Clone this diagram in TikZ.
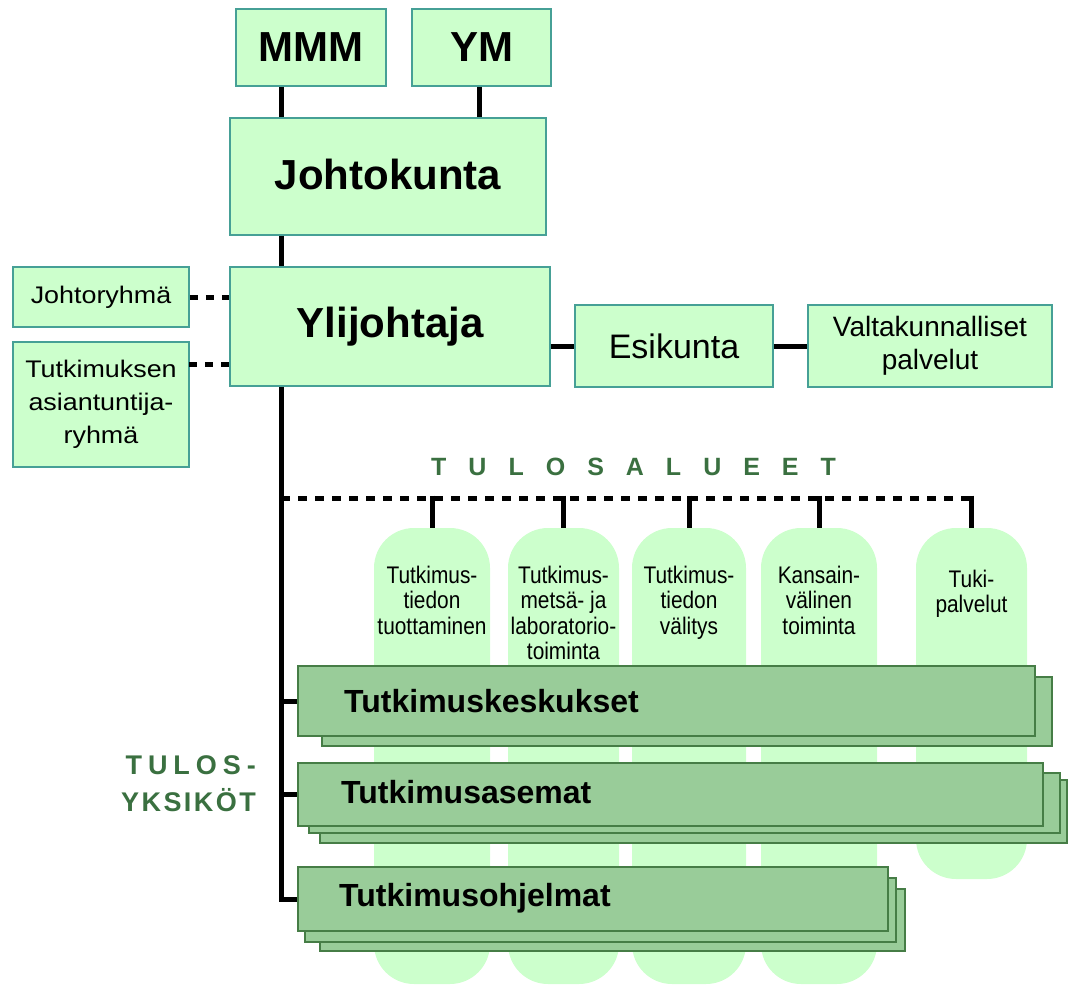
\documentclass[tikz,border=0pt]{standalone}
\usepackage{fontspec}
\setmainfont{Liberation Sans}
\newfontfamily\widefont[FakeStretch=1.12]{Liberation Sans}
\newfontfamily\narrowfont[FakeStretch=0.87]{Liberation Sans}
\newfontface\spacedfont[LetterSpace=88]{Liberation Sans Bold}
\newfontface\tyfontA[LetterSpace=22]{Liberation Sans Bold}
\newfontface\tyfontB[LetterSpace=9]{Liberation Sans Bold}
\definecolor{lgreen}{RGB}{204,255,204}
\definecolor{tealb}{RGB}{70,160,150}
\definecolor{mgreen}{RGB}{153,204,153}
\definecolor{dgreenb}{RGB}{70,125,70}
\definecolor{tgreen}{RGB}{58,112,64}
\begin{document}
\begin{tikzpicture}[x=1pt,y=-1pt,
  lbox/.style={draw=tealb, fill=lgreen, line width=1.6pt, inner sep=0pt, align=center},
  gbox/.style={draw=dgreenb, fill=mgreen, line width=1.4pt, inner sep=0pt},
  pillar/.style={fill=lgreen, draw=none, rounded corners=40pt, inner sep=0pt, minimum height=456pt},
  conn/.style={line width=5pt},
  dconn/.style={line width=5pt, dash pattern=on 9pt off 8pt},
  sdconn/.style={line width=5pt, dash pattern=on 8pt off 8pt},
  bigtext/.style={font=\fontsize{42}{48}\selectfont\bfseries},
  midtext/.style={font=\widefont\fontsize{24}{33}\selectfont},
  pilltext/.style={font=\narrowfont\fontsize{24}{25.5}\selectfont, align=center, inner sep=0pt, anchor=north},
  gtext/.style={font=\fontsize{32}{36}\selectfont\bfseries, inner sep=0pt, anchor=base west},
]
\useasboundingbox (0,0) rectangle (1069,985);

% pillars
\node[pillar, minimum width=116pt] (p1) at (432,756) {};
\node[pillar, minimum width=111pt] (p2) at (563.5,756) {};
\node[pillar, minimum width=114pt] (p3) at (689,756) {};
\node[pillar, minimum width=116pt] (p4) at (819,756) {};
\node[pillar, minimum width=111pt, minimum height=351pt] (p5) at (971.5,703.5) {};

\node[pilltext] (p1t) at (432,565.5) {Tutkimus-\\tiedon\\tuottaminen};
\node[pilltext] (p2t) at (563.5,565.5) {Tutkimus-\\metsä- ja\\laboratorio-\\toiminta};
\node[pilltext] (p3t) at (689,565.5) {Tutkimus-\\tiedon\\välitys};
\node[pilltext] (p4t) at (819,565.5) {Kansain-\\välinen\\toiminta};
\node[pilltext] (p5t) at (971.5,569.5) {Tuki-\\palvelut};

% top boxes
\node[lbox, bigtext, minimum width=150pt, minimum height=77pt] (mmm) at (311,47.5) {MMM};
\node[lbox, bigtext, minimum width=139pt, minimum height=77pt] (ym) at (481.5,47.5) {YM};
\node[lbox, bigtext, minimum width=316pt, minimum height=117pt, text depth=0pt] (jk) at (388,176.5) {\raisebox{4pt}{Johtokunta}};
\node[lbox, bigtext, minimum width=320pt, minimum height=119pt] (ylj) at (390,326.5) {Ylijohtaja};
\node[lbox, midtext, minimum width=176pt, minimum height=60pt] (jr) at (101,297) {Johtoryhmä};
\node[lbox, midtext, minimum width=176pt, minimum height=125pt] (ta) at (101,404.5) {Tutkimuksen\\asiantuntija-\\ryhmä};
\node[lbox, font=\fontsize{34}{40}\selectfont, minimum width=198pt, minimum height=82pt] (esik) at (674,346) {Esikunta};
\node[lbox, font=\fontsize{28}{33}\selectfont, minimum width=244pt, minimum height=82pt] (valt) at (930,346) {Valtakunnalliset\\palvelut};

% connectors top
\coordinate (vx) at (281,0);
\coordinate (ymx) at (479,0);
\draw[conn] (mmm.south -| vx) -- (jk.north -| vx);
\draw[conn] (ym.south -| ymx) -- (jk.north -| ymx);
\draw[conn] (jk.south -| vx) -- (ylj.north -| vx);
\draw[sdconn] (jr.east) -- (jr.east -| ylj.west);
\coordinate (d2) at (189,364);
\draw[sdconn] (d2) -- (d2 -| ylj.west);
\draw[conn] (esik.west -| ylj.east) -- (esik.west);
\draw[conn] (esik.east) -- (valt.west);

% tulosalueet
\node[font=\spacedfont\fontsize{25}{30}\selectfont, text=tgreen, inner sep=0pt, anchor=base west] (tal) at (431,475) {TULOSALUEET};
\coordinate (tl) at (281,498);
\coordinate (tl2) at (281,495.5);
\draw[dconn] (tl) -- (tl -| p5.north);
\foreach \p in {p1,p2,p3,p4,p5} \draw[conn] (\p.north |- tl2) -- (\p.north);

% green boxes
\node[gbox, minimum width=730pt, minimum height=69pt] (kesk2) at (687,711.5) {};
\node[gbox, minimum width=737pt, minimum height=70pt] (kesk) at (666.5,701) {};
\node[gbox, minimum width=747pt, minimum height=63pt] (ase3) at (693.5,811.5) {};
\node[gbox, minimum width=751pt, minimum height=60pt] (ase2) at (684.5,803) {};
\node[gbox, minimum width=745pt, minimum height=63pt] (ase) at (670.5,794.5) {};
\node[gbox, minimum width=585pt, minimum height=62pt] (ohj3) at (612.5,920) {};
\node[gbox, minimum width=591pt, minimum height=64pt] (ohj2) at (600.5,910) {};
\node[gbox, minimum width=590pt, minimum height=64pt] (ohj) at (593,899) {};
\node[gtext] (keskt) at (344,712) {Tutkimuskeskukset};
\node[gtext] (aset) at (341,803) {Tutkimusasemat};
\node[gtext] (ohjt) at (339,906) {Tutkimusohjelmat};

% main spine
\draw[conn] (ylj.south -| vx) -- (ohj.west -| vx) -- (ohj.west);
\draw[conn] (kesk.west -| vx) -- (kesk.west);
\draw[conn] (ase.west -| vx) -- (ase.west);

% tulosyksiköt
\node[text=tgreen, align=right, inner sep=0pt, anchor=north east, font=\tyfontB\fontsize{27}{37}\selectfont] (ty) at (256,755.7) {{\tyfontA TULOS-}\\YKSIKÖT};
\end{tikzpicture}
\end{document}
